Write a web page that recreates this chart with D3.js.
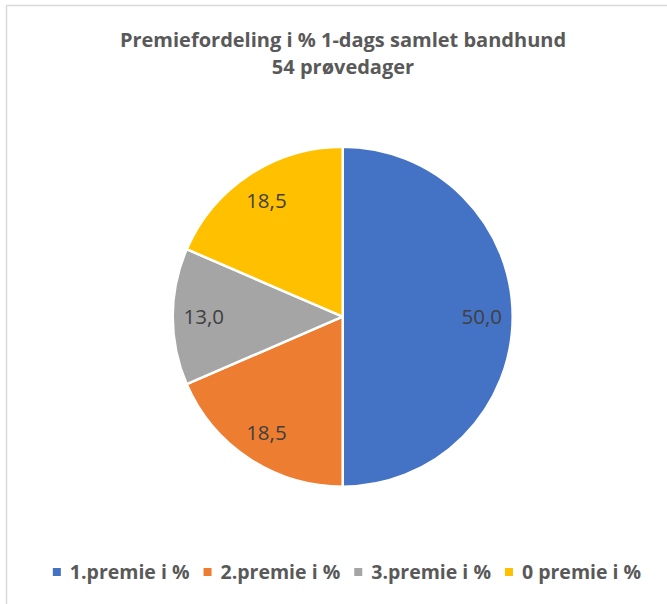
<!DOCTYPE html>
<html>
<head>
<meta charset="utf-8">
<script src="https://cdn.jsdelivr.net/npm/d3@7"></script>
<style>
  html, body { margin: 0; padding: 0; background: #fff; }
  svg { display: block; }
</style>
</head>
<body>
<div id="chart"></div>
<script>
(function () {
    const categories = ["1.premie i %", "2.premie i %", "3.premie i %", "0 premie i %"];
    const values = [50.0, 18.5, 13.0, 18.5];
    const colors = ["#4472C4", "#ED7D31", "#A5A5A5", "#FFC000"];
    const titleLines = ["Premiefordeling i % 1-dags samlet bandhund", "54 prøvedager"];

    const width = 667, height = 604;
    const cx = 342.7, cy = 316.7, radius = 170;
    const FONT = "'Open Sans', sans-serif";

    const data = categories.map((c, i) => ({ name: c, value: values[i], color: colors[i] }));

    const svg = d3.select("#chart").append("svg")
        .attr("width", width)
        .attr("height", height);

    svg.append("rect")
        .attr("x", 6.5).attr("y", 5.5)
        .attr("width", 720).attr("height", 720)
        .attr("fill", "#fff")
        .attr("stroke", "#d9d9d9")
        .attr("stroke-width", 1.5);

    // title
    svg.append("g").selectAll("text")
        .data(titleLines)
        .enter()
        .append("text")
        .attr("x", 343)
        .attr("y", (d, i) => 47 + i * 27)
        .attr("text-anchor", "middle")
        .style("font", `bold 20px ${FONT}`)
        .attr("fill", "#595959")
        .text(d => d);

    const pie = d3.pie().sort(null).value(d => d.value);
    const arc = d3.arc().innerRadius(0).outerRadius(radius);
    const labelArc = d3.arc().innerRadius(139).outerRadius(139);

    const g = svg.append("g").attr("transform", `translate(${cx},${cy})`);
    const arcs = pie(data);

    g.selectAll("path")
        .data(arcs)
        .enter()
        .append("path")
        .attr("d", arc)
        .attr("fill", d => d.data.color)
        .attr("stroke", "#fff")
        .attr("stroke-width", 2.5)
        .attr("stroke-linejoin", "round");

    const fmt = v => d3.format(".1f")(v).replace(".", ",");

    g.selectAll("text.lbl")
        .data(arcs)
        .enter()
        .append("text")
        .attr("class", "lbl")
        .attr("transform", d => `translate(${labelArc.centroid(d)})`)
        .attr("text-anchor", "middle")
        .attr("dy", "0.36em")
        .style("font", `20.5px ${FONT}`)
        .attr("fill", "#404040")
        .text(d => fmt(d.data.value));

    // legend
    const legend = svg.append("g");
    const items = legend.selectAll("g")
        .data(data)
        .enter()
        .append("g");

    items.append("rect")
        .attr("width", 8).attr("height", 8)
        .attr("y", -11)
        .attr("fill", d => d.color);

    items.append("text")
        .attr("x", 17)
        .style("font", `bold 19.5px ${FONT}`)
        .attr("fill", "#595959")
        .text(d => d.name);

    let xPos = 0;
    items.each(function () {
        const w = d3.select(this).select("text").node().getComputedTextLength();
        d3.select(this).attr("transform", `translate(${xPos},0)`);
        xPos += 17 + w + 14;
    });
    const totalW = xPos - 14;
    legend.attr("transform", `translate(${347 - totalW / 2},579)`);
})();
</script>
</body>
</html>
